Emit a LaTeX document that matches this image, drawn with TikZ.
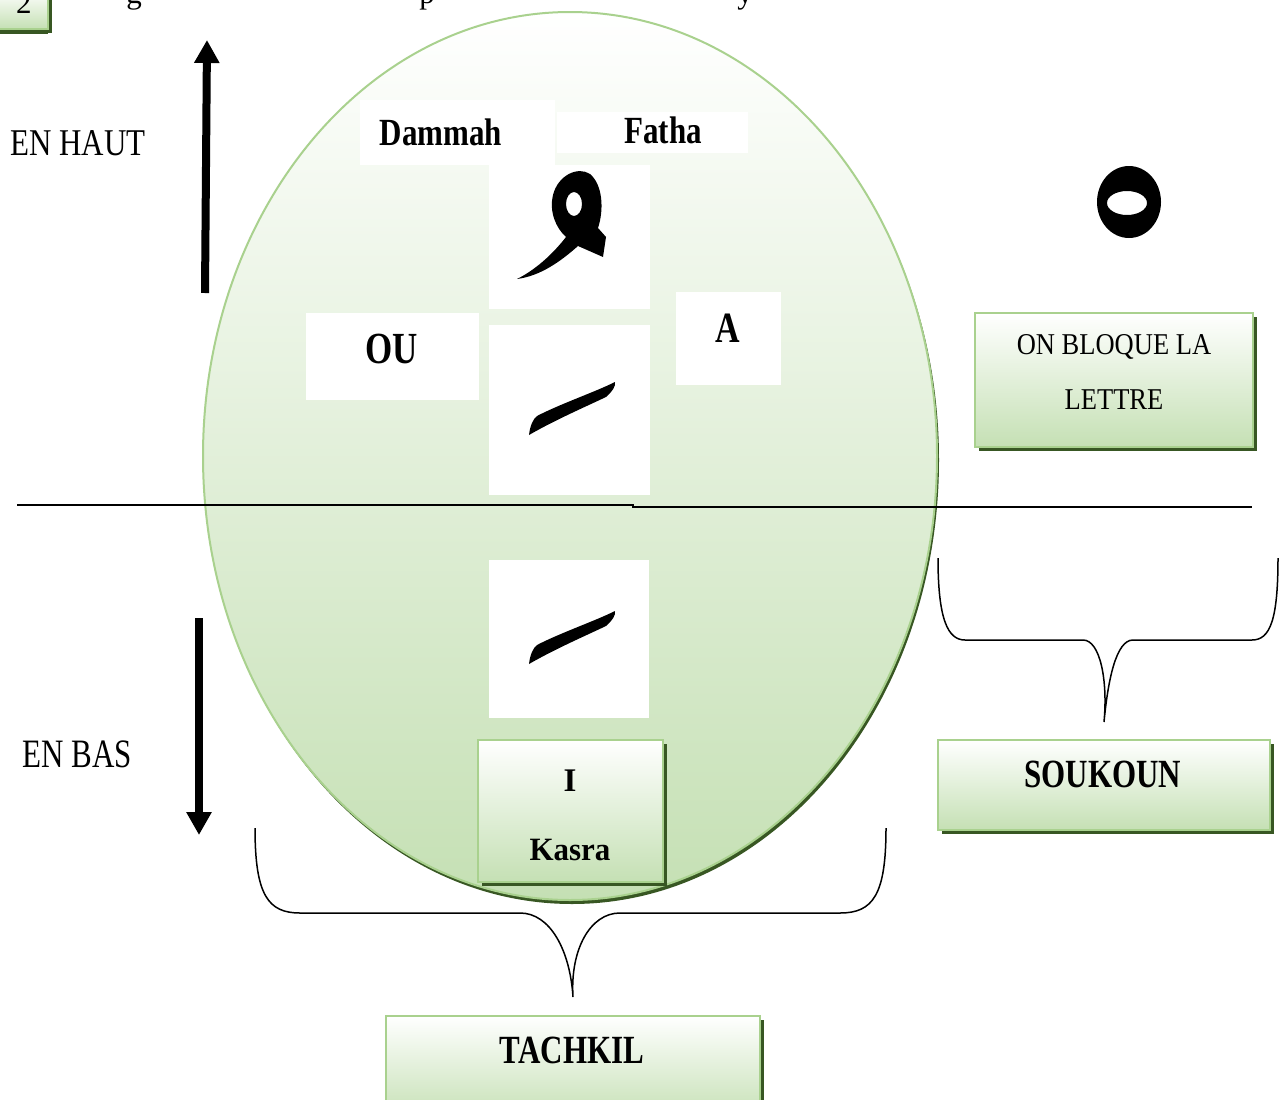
\documentclass[tikz,border=0pt]{standalone}
\usepackage{fontspec}
\setmainfont{Liberation Serif}
\usepackage{graphicx}
\usetikzlibrary{arrows.meta,shadows}
\definecolor{boxgreen}{HTML}{C5E0B4}
\definecolor{ltgreen}{HTML}{A9D18E}
\definecolor{dkgreen}{HTML}{385723}
\newcommand{\tall}[2][1.27]{\scalebox{1}[#1]{#2}}

\begin{document}
\begin{tikzpicture}[x=1pt, y=-1pt,
    whitebox/.style={fill=white, inner sep=0pt},
    greenbox/.style={draw=ltgreen, line width=2pt, top color=white, bottom color=boxgreen, inner sep=0pt,
        drop shadow={shadow xshift=4pt, shadow yshift=-4pt, fill=dkgreen, opacity=1}},
    lbl/.style={anchor=base, inner sep=0pt, font=\fontsize{31}{36}\selectfont},
    boldlbl/.style={lbl, font=\fontsize{31}{36}\selectfont\bfseries},
    updown/.style={line width=8pt, -{Triangle[length=23pt, width=24pt]}},
    brace/.style={line width=1.5pt}]
    \useasboundingbox (0,0) rectangle (1288,1100);
    % cut line of text above
    \node[greenbox, drop shadow={shadow xshift=0pt, shadow yshift=-5pt, fill=dkgreen, opacity=1}, minimum width=52pt, minimum height=39pt] (two) at (22,9.5) {};
    \node[lbl] (twotxt) at (24,13) {2};
    \node[lbl] (frag1) at (134,3) {g};
    \node[lbl] (frag2) at (427,3) {p};
    \node[lbl] (frag3) at (745,3) {y};
    % the big ellipse
    \fill[dkgreen] (572,460) ellipse [x radius=367, y radius=444];
    \shade[top color=white, bottom color=boxgreen, draw=ltgreen, line width=2pt] (570,456) ellipse [x radius=367, y radius=444];
    % white boxes
    \node[whitebox, minimum width=195pt, minimum height=65pt] (dammahbox) at (457.5,132.5) {};
    \node[whitebox, minimum width=191pt, minimum height=41pt] (fathabox) at (652.5,132.5) {};
    \node[whitebox, minimum width=161pt, minimum height=144pt] (dammahglyph) at (569.5,237) {};
    \node[whitebox, minimum width=173pt, minimum height=87pt] (oubox) at (392.5,356.5) {};
    \node[whitebox, minimum width=105pt, minimum height=93pt] (abox) at (728.5,338.5) {};
    \node[whitebox, minimum width=161pt, minimum height=170pt] (fathaglyph) at (569.5,410) {};
    \node[whitebox, minimum width=160pt, minimum height=158pt] (kasraglyph) at (569,639) {};
    % dammah
    \fill[even odd rule] (517,279) .. controls (540,276) and (560,262) .. (578,246)
        -- (603,257) -- (606,237) -- (598,228)
        .. controls (604,210) and (603,185) .. (590,174)
        .. controls (578,166) and (558,175) .. (553,195)
        .. controls (549,212) and (556,228) .. (566,237)
        .. controls (552,255) and (535,270) .. (517,279) -- cycle
        (574,204) ellipse [x radius=8, y radius=12];
    % fatha and kasra
    \foreach \dy in {0,229}
        \fill[shift={(0,\dy)}] (529,435) .. controls (530,426) and (533,419) .. (537,416)
            .. controls (560,404) and (595,392) .. (615,382)
            .. controls (616,386) and (612,392) .. (606,397)
            .. controls (585,407) and (555,420) .. (529,435) -- cycle;
    % soukoun
    \fill[even odd rule] (1129,202) ellipse [x radius=32, y radius=36] (1127,203) ellipse [x radius=20, y radius=12];
    % middle line and arrows
    \draw[line width=1.5pt] (17,505) -- (633,505) -- (633,507) -- (1252,507);
    \draw[updown] (205,293) -- (207,40);
    \draw[updown] (199,618) -- (199,835);
    % green boxes
    \node[greenbox, minimum width=278pt, minimum height=134pt] (bloque) at (1114,380) {};
    \node[greenbox, minimum width=332pt, minimum height=90pt] (soukoun) at (1104,785) {};
    \node[greenbox, minimum width=185pt, minimum height=142pt] (kasra) at (570.5,811) {};
    \node[greenbox, minimum width=374pt, minimum height=104pt] (tachkil) at (573,1068) {};
    % texts
    \node[lbl] (enhaut) at (78,155) {\tall[1.22]{EN HAUT}};
    \node[lbl] (enbas) at (77,767) {\tall[1.3]{EN BAS}};
    \node[boldlbl] (dammahtxt) at (441,145) {\tall[1.24]{Dammah}};
    \node[boldlbl] (fathatxt) at (663,143) {\tall[1.24]{Fatha}};
    \node[boldlbl, font=\fontsize{35}{40}\selectfont\bfseries] (outxt) at (392,363) {\tall{OU}};
    \node[boldlbl, font=\fontsize{34}{40}\selectfont\bfseries] (atxt) at (728,342) {\tall{A}};
    \node[lbl, font=\fontsize{26.5}{30}\selectfont] (bloque1) at (1114,354) {\tall[1.14]{ON BLOQUE LA}};
    \node[lbl, font=\fontsize{26.5}{30}\selectfont] (bloque2) at (1114,409) {\tall[1.14]{LETTRE}};
    \node[boldlbl] (soukountxt) at (1103,787) {\tall[1.29]{SOUKOUN}};
    \node[boldlbl, font=\fontsize{33}{36}\selectfont\bfseries] (itxt) at (570,791) {I};
    \node[boldlbl] (kasratxt) at (570,860) {\tall[1.05]{Kasra}};
    \node[boldlbl] (tachkiltxt) at (572,1063) {\tall[1.29]{TACHKIL}};
    % braces
    \coordinate (tachkilL) at (255,828);
    \coordinate (tachkilR) at (886,828);
    \coordinate (tachkiltip) at ([yshift=18pt]tachkil.north);
    \draw[brace] (tachkilL) .. controls (255,895) and (268,913) .. (300,913) -- (520,913)
        .. controls (550,913) and (570,950) .. (tachkiltip)
        .. controls (570,950) and (590,913) .. (620,913) -- (840,913)
        .. controls (873,913) and (886,895) .. (tachkilR);
    \coordinate (soukounL) at (938,558);
    \coordinate (soukounR) at (1278,558);
    \coordinate (soukountip) at ([yshift=17pt]soukoun.north);
    \draw[brace] (soukounL) .. controls (938,620) and (948,640) .. (965,640) -- (1083,640)
        .. controls (1100,640) and (1108,680) .. (soukountip)
        .. controls (1108,680) and (1116,640) .. (1133,640) -- (1252,640)
        .. controls (1270,640) and (1278,620) .. (soukounR);
\end{tikzpicture}
\end{document}
